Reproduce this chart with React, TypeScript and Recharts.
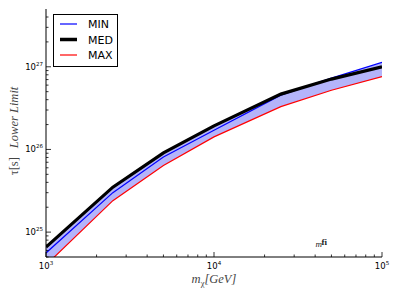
import React from 'react';
import { ComposedChart, Line, Area, XAxis, YAxis, Legend, Label, ReferenceDot } from 'recharts';

const MASS = [1000, 2500, 5000, 10000, 25000, 50000, 100000];
const MIN_VALS = [5.6e24, 3.0e25, 8.1e25, 1.71e26, 4.54e26, 7.3e26, 1.13e27];
const MED_VALS = [6.6e24, 3.5e25, 9.1e25, 1.93e26, 4.67e26, 7.1e26, 1.0e27];
const MAX_VALS = [4.0e24, 2.4e25, 6.4e25, 1.42e26, 3.3e26, 5.2e26, 7.6e26];

const X_TICKS = [
  1000, 2000, 3000, 4000, 5000, 6000, 7000, 8000, 9000,
  10000, 20000, 30000, 40000, 50000, 60000, 70000, 80000, 90000, 100000,
];
const Y_TICKS = [
  5e24, 6e24, 7e24, 8e24, 9e24,
  1e25, 2e25, 3e25, 4e25, 5e25, 6e25, 7e25, 8e25, 9e25,
  1e26, 2e26, 3e26, 4e26, 5e26, 6e26, 7e26, 8e26, 9e26,
  1e27, 2e27, 3e27, 4e27,
];
const X_DOMAIN = [1000, 100000];
const Y_DOMAIN = [5e24, 5e27];

const SERIES = [
  { key: 'min', name: 'MIN', color: '#0000ff', width: 1.2, legendWidth: 1.2 },
  { key: 'med', name: 'MED', color: '#000000', width: 3.2, legendWidth: 3.5 },
  { key: 'max', name: 'MAX', color: '#ff0000', width: 1.2, legendWidth: 1.2 },
];

const DATA = MASS.map((m, i) => ({
  m,
  min: MIN_VALS[i],
  med: MED_VALS[i],
  max: MAX_VALS[i],
  band: [MAX_VALS[i], Math.max(MIN_VALS[i], MED_VALS[i])],
}));

const TICK_FONT = '"DejaVu Sans", sans-serif';
const MATH_FONT = '"Liberation Serif", "DejaVu Serif", serif';

const isMajor = (v: number) => {
  const l = Math.log10(v);
  return Math.abs(l - Math.round(l)) < 1e-9;
};

const makeTick = (side: 'bottom' | 'top' | 'left' | 'right') => (props: any) => {
  const { x, y, payload } = props;
  const v = payload.value as number;
  const major = isMajor(v);
  const len = major ? 5 : 2.5;
  const exp = Math.round(Math.log10(v));
  let line;
  if (side === 'bottom') line = <line x1={x} x2={x} y1={y} y2={y - len} stroke="#000" strokeWidth={0.8} />;
  else if (side === 'top') line = <line x1={x} x2={x} y1={y} y2={y + len} stroke="#000" strokeWidth={0.8} />;
  else if (side === 'left') line = <line x1={x} x2={x + len} y1={y} y2={y} stroke="#000" strokeWidth={0.8} />;
  else line = <line x1={x} x2={x - len} y1={y} y2={y} stroke="#000" strokeWidth={0.8} />;
  let label = null;
  if (major && side === 'bottom') {
    label = (
      <text x={x} y={y + 12} textAnchor="middle" fontFamily={TICK_FONT} fontSize={8.5} fill="#000">
        10<tspan dy={-4} fontSize={5.5}>{exp}</tspan>
      </text>
    );
  } else if (major && side === 'left') {
    label = (
      <text x={x - 3} y={y + 3} textAnchor="end" fontFamily={TICK_FONT} fontSize={8.5} fill="#000">
        10<tspan dy={-4} fontSize={5.5}>{exp}</tspan>
      </text>
    );
  }
  return (
    <g>
      {line}
      {label}
    </g>
  );
};

const LegendBox = () => (
  <svg width={65} height={53} style={{ display: 'block' }}>
    <rect x={0.5} y={0.5} width={64} height={52} fill="#fff" stroke="#000" strokeWidth={1} />
    {SERIES.map((s, i) => (
      <g key={s.key}>
        <line x1={7} x2={24} y1={10 + i * 15.5} y2={10 + i * 15.5} stroke={s.color} strokeWidth={s.legendWidth} />
        <text x={35} y={14 + i * 15.5} fontFamily={TICK_FONT} fontSize={11} fill="#000">
          {s.name}
        </text>
      </g>
    ))}
  </svg>
);

const XLabel = (props: any) => {
  const { viewBox } = props;
  const cx = viewBox.x + viewBox.width / 2;
  const cy = viewBox.y + 26;
  return (
    <text x={cx} y={cy} textAnchor="middle" fontFamily={MATH_FONT} fontStyle="italic" fontSize={12.5} fill="#444">
      m<tspan dy={2.5} fontSize={8.5} fontStyle="normal">χ</tspan>
      <tspan dy={-2.5}>[GeV]</tspan>
    </text>
  );
};

const YLabel = (props: any) => {
  const { viewBox } = props;
  const cx = 18;
  const cy = viewBox.y + viewBox.height / 2 - 2;
  return (
    <text
      x={cx}
      y={cy}
      textAnchor="middle"
      transform={`rotate(-90 ${cx} ${cy})`}
      fontFamily={MATH_FONT}
      fontSize={12.5}
      fill="#444"
    >
      <tspan>τ[s]</tspan>
      <tspan fontStyle="italic" dx={9}>Lower Limit</tspan>
    </text>
  );
};

const StrayLabel = (props: any) => {
  const { viewBox } = props;
  const x = viewBox.cx ?? viewBox.x;
  const y = viewBox.cy ?? viewBox.y;
  return (
    <text x={x - 4} y={y + 3} fontFamily={MATH_FONT} fontSize={9} fill="#222">
      <tspan fontStyle="italic">m</tspan>
      <tspan dx={-0.5} dy={-2} fontWeight="bold">fi</tspan>
    </text>
  );
};

export default function App() {
  return (
    <div style={{ margin: -8, width: 399, height: 299, background: '#fff', position: 'relative' }}>
      <ComposedChart width={399} height={299} data={DATA} margin={{ top: 9, right: 17, bottom: 0, left: 0 }}>
        <XAxis
          xAxisId="b"
          dataKey="m"
          type="number"
          scale="log"
          domain={X_DOMAIN}
          allowDataOverflow
          ticks={X_TICKS}
          interval={0}
          height={42}
          tickSize={0}
          tickMargin={0}
          tickLine={false}
          axisLine={{ stroke: '#000', strokeWidth: 1 }}
          tick={makeTick('bottom')}
        >
          <Label content={XLabel} />
        </XAxis>
        <XAxis
          xAxisId="t"
          dataKey="m"
          type="number"
          scale="log"
          orientation="top"
          domain={X_DOMAIN}
          allowDataOverflow
          ticks={X_TICKS}
          interval={0}
          height={0}
          tickSize={0}
          tickMargin={0}
          tickLine={false}
          axisLine={{ stroke: '#000', strokeWidth: 1 }}
          tick={makeTick('top')}
        />
        <YAxis
          yAxisId="l"
          type="number"
          scale="log"
          domain={Y_DOMAIN}
          allowDataOverflow
          ticks={Y_TICKS}
          interval={0}
          width={46}
          tickSize={0}
          tickMargin={0}
          tickLine={false}
          axisLine={{ stroke: '#000', strokeWidth: 1 }}
          tick={makeTick('left')}
        >
          <Label content={YLabel} />
        </YAxis>
        <YAxis
          yAxisId="r"
          orientation="right"
          type="number"
          scale="log"
          domain={Y_DOMAIN}
          allowDataOverflow
          ticks={Y_TICKS}
          interval={0}
          width={0}
          tickSize={0}
          tickMargin={0}
          tickLine={false}
          axisLine={{ stroke: '#000', strokeWidth: 1 }}
          tick={makeTick('right')}
        />
        <Area
          xAxisId="b"
          yAxisId="l"
          dataKey="band"
          type="linear"
          stroke="none"
          fill="#b4b4fa"
          fillOpacity={1}
          isAnimationActive={false}
          legendType="none"
        />
        {SERIES.map((s) => (
          <Line
            key={s.key}
            xAxisId="b"
            yAxisId="l"
            dataKey={s.key}
            name={s.name}
            type="linear"
            stroke={s.color}
            strokeWidth={s.width}
            dot={false}
            activeDot={false}
            isAnimationActive={false}
          />
        ))}
        <ReferenceDot
          xAxisId="b"
          yAxisId="l"
          x={42500}
          y={7.2e24}
          r={0}
          fill="none"
          stroke="none"
          label={<Label content={StrayLabel} />}
        />
        <Legend
          layout="horizontal"
          verticalAlign="middle"
          align="center"
          content={LegendBox}
          wrapperStyle={{ position: 'absolute', left: 53, top: 14, width: 65, height: 53 }}
        />
      </ComposedChart>
    </div>
  );
}
